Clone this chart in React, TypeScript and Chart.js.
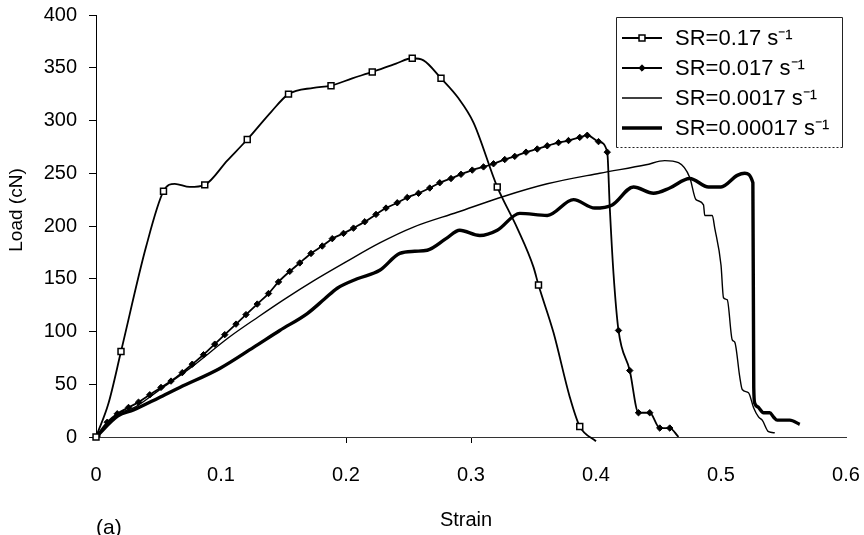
import React, { useEffect, useRef } from "react";
import { Chart, registerables } from "chart.js";

Chart.register(...registerables);

const FONT = '"Liberation Sans", Arial, Helvetica, sans-serif';

const seriesLabels = ["SR=0.17 s⁻¹", "SR=0.017 s⁻¹", "SR=0.0017 s⁻¹", "SR=0.00017 s⁻¹"];
const xTickValues = [0, 0.1, 0.2, 0.3, 0.4, 0.5, 0.6];
const yTickValues = [0, 50, 100, 150, 200, 250, 300, 350, 400];
const xAxisTitle = "Strain";
const yAxisTitle = "Load (cN)";
const panelLabel = "(a)";

// SR = 0.17 s-1 (square markers)
const sr1Strain = [0, 0.01, 0.02, 0.04, 0.054, 0.063, 0.075, 0.087, 0.105, 0.121, 0.14, 0.154, 0.174, 0.188, 0.205, 0.221, 0.24, 0.253, 0.262, 0.276, 0.29, 0.302, 0.321, 0.337, 0.35, 0.354, 0.366, 0.379, 0.387, 0.4];
const sr1Load = [0, 32, 81, 180, 233, 240, 237, 239, 262, 282, 308, 325, 331, 333, 340, 346, 354, 359, 357, 340, 321, 298, 237, 198, 161, 144, 99, 38, 10, -4];
const sr1Markers = [0, 2, 4, 7, 9, 11, 13, 15, 17, 19, 22, 25, 28];

// SR = 0.017 s-1 (diamond markers)
const sr2Strain = [0, 0.009, 0.017, 0.026, 0.034, 0.043, 0.052, 0.06, 0.069, 0.077, 0.086, 0.095, 0.103, 0.112, 0.12, 0.129, 0.138, 0.146, 0.155, 0.163, 0.172, 0.181, 0.189, 0.198, 0.206, 0.215, 0.224, 0.232, 0.241, 0.249, 0.258, 0.267, 0.275, 0.284, 0.292, 0.301, 0.31, 0.318, 0.327, 0.335, 0.344, 0.353, 0.361, 0.37, 0.378, 0.387, 0.393, 0.402, 0.409, 0.411, 0.414, 0.418, 0.427, 0.434, 0.443, 0.451, 0.459, 0.466];
const sr2Load = [0, 14, 22, 28, 33, 40, 47, 53, 61, 69, 78, 88, 97, 107, 116, 126, 136, 147, 157, 165, 174, 181, 188, 193, 198, 204, 211, 217, 222, 227, 231, 236, 241, 245, 249, 253, 256, 259, 263, 266, 270, 273, 276, 279, 281, 284, 286, 280, 270, 218, 155, 101, 63, 23, 23, 8.5, 8.5, 0];
const sr2Unmarked = [49, 50, 57];

// SR = 0.0017 s-1 (thin line)
const sr3Strain = [0, 0.0176, 0.03, 0.05, 0.075, 0.107, 0.13, 0.15, 0.174, 0.2, 0.227, 0.254, 0.289, 0.326, 0.361, 0.403, 0.44, 0.455, 0.466, 0.475, 0.48, 0.486, 0.487, 0.493, 0.495, 0.5, 0.502, 0.505, 0.509, 0.511, 0.515, 0.517, 0.522, 0.526, 0.53, 0.533, 0.538, 0.543];
const sr3Load = [0, 22, 27.5, 44, 65, 95, 114, 130, 148, 166, 184, 199, 213, 228, 240, 250, 258, 262, 260, 246, 225, 220, 210, 210, 198, 163, 132, 130, 92, 90, 57, 45, 42, 28, 19, 16, 5, 4];

// SR = 0.00017 s-1 (thick line)
const sr4Strain = [0, 0.0176, 0.03, 0.05, 0.067, 0.099, 0.126, 0.147, 0.169, 0.183, 0.193, 0.209, 0.227, 0.243, 0.255, 0.265, 0.28, 0.291, 0.307, 0.321, 0.339, 0.361, 0.382, 0.399, 0.413, 0.43, 0.446, 0.459, 0.475, 0.49, 0.5, 0.513, 0.519, 0.5255, 0.5262, 0.527, 0.53, 0.534, 0.539, 0.542, 0.545, 0.555, 0.563];
const sr4Load = [0, 20, 25.6, 37, 47, 65, 85, 101, 117, 131, 141, 150, 158, 174, 176, 177, 188, 196, 191, 196, 212, 210, 225, 217, 220, 237, 231, 236, 245, 237, 237, 248, 250, 241, 47, 32, 28, 23, 23, 19, 16, 16, 12];

function toPoints(xs: number[], ys: number[]) {
  return xs.map((x, i) => ({ x, y: ys[i] }));
}

function drawMarker(ctx: CanvasRenderingContext2D, style: string, r: number, x: number, y: number, fill: string, bw: number) {
  ctx.save();
  ctx.beginPath();
  if (style === "rect") {
    const s = Math.SQRT1_2 * r;
    ctx.rect(x - s, y - s, 2 * s, 2 * s);
  } else {
    ctx.moveTo(x, y - r);
    ctx.lineTo(x + r, y);
    ctx.lineTo(x, y + r);
    ctx.lineTo(x - r, y);
    ctx.closePath();
  }
  ctx.fillStyle = fill;
  ctx.fill();
  ctx.lineWidth = bw;
  ctx.strokeStyle = "#000";
  ctx.stroke();
  ctx.restore();
}

const decorPlugin = {
  id: "decor",
  afterDraw(chart: any) {
    const ctx: CanvasRenderingContext2D = chart.ctx;
    const area = chart.chartArea;
    ctx.save();
    // legend box
    const bx = area.right - 230;
    const by = area.top + 2;
    const bw = 226;
    const bh = 130;
    ctx.fillStyle = "#fff";
    ctx.fillRect(bx, by, bw, bh);
    ctx.strokeStyle = "#222";
    ctx.lineWidth = 1;
    ctx.beginPath();
    ctx.moveTo(bx + 0.5, by + bh + 0.5);
    ctx.lineTo(bx + 0.5, by + 0.5);
    ctx.lineTo(bx + bw + 0.5, by + 0.5);
    ctx.lineTo(bx + bw + 0.5, by + bh + 0.5);
    ctx.stroke();
    ctx.setLineDash([2, 2]);
    ctx.beginPath();
    ctx.moveTo(bx + 0.5, by + bh + 0.5);
    ctx.lineTo(bx + bw + 0.5, by + bh + 0.5);
    ctx.stroke();
    ctx.setLineDash([]);
    chart.data.datasets.forEach((ds: any, i: number) => {
      const y = by + 21 + i * 30;
      const x1 = bx + 6;
      const x2 = bx + 46;
      ctx.strokeStyle = "#000";
      ctx.lineWidth = ds.borderWidth;
      ctx.beginPath();
      ctx.moveTo(x1, y);
      ctx.lineTo(x2, y);
      ctx.stroke();
      if (ds.legendMarker) {
        drawMarker(ctx, ds.pointStyle, ds.legendMarker, (x1 + x2) / 2, y, ds.pointBackgroundColor, ds.pointBorderWidth);
      }
      ctx.fillStyle = "#000";
      ctx.font = `22px ${FONT}`;
      ctx.textAlign = "left";
      ctx.textBaseline = "middle";
      ctx.fillText(ds.label, bx + 59, y + 1);
    });
    // axis titles
    ctx.fillStyle = "#000";
    ctx.font = `20px ${FONT}`;
    ctx.textAlign = "center";
    ctx.textBaseline = "middle";
    ctx.fillText(xAxisTitle, 466, 520);
    ctx.font = `19px ${FONT}`;
    ctx.save();
    ctx.translate(17, 210);
    ctx.rotate(-Math.PI / 2);
    ctx.fillText(yAxisTitle, 0, 0);
    ctx.restore();
    ctx.font = `21px ${FONT}`;
    ctx.textAlign = "left";
    ctx.textBaseline = "top";
    ctx.fillText(panelLabel, 96, 518);
    ctx.restore();
  },
};

export default function App() {
  const ref = useRef<HTMLCanvasElement | null>(null);
  useEffect(() => {
    if (!ref.current) return;
    const m1 = new Set(sr1Markers);
    const u2 = new Set(sr2Unmarked);
    const chart = new Chart(ref.current, {
      type: "line",
      data: {
        datasets: [
          {
            label: seriesLabels[0],
            data: toPoints(sr1Strain, sr1Load),
            borderColor: "#000",
            borderWidth: 1.8,
            cubicInterpolationMode: "monotone",
            pointStyle: "rect",
            pointRadius: (c: any) => (m1.has(c.dataIndex) ? 4.2 : 0),
            pointBackgroundColor: "#fff",
            pointBorderColor: "#000",
            pointBorderWidth: 1.5,
            clip: false,
            legendMarker: 4.2,
          } as any,
          {
            label: seriesLabels[1],
            data: toPoints(sr2Strain, sr2Load),
            borderColor: "#000",
            borderWidth: 1.8,
            cubicInterpolationMode: "monotone",
            pointStyle: "rectRot",
            pointRadius: (c: any) => (u2.has(c.dataIndex) ? 0 : 3.2),
            pointBackgroundColor: "#000",
            pointBorderColor: "#000",
            pointBorderWidth: 1,
            legendMarker: 3.2,
          } as any,
          {
            label: seriesLabels[2],
            data: toPoints(sr3Strain, sr3Load),
            borderColor: "#000",
            borderWidth: 1.4,
            cubicInterpolationMode: "monotone",
            pointRadius: 0,
          } as any,
          {
            label: seriesLabels[3],
            data: toPoints(sr4Strain, sr4Load),
            borderColor: "#000",
            borderWidth: 3.4,
            cubicInterpolationMode: "monotone",
            pointStyle: "rect",
            pointRadius: (c: any) => (c.dataIndex === 0 ? 4 : 0),
            pointBackgroundColor: "#000",
            pointBorderColor: "#000",
          } as any,
        ],
      },
      options: {
        responsive: false,
        animation: false,
        events: [],
        layout: { padding: { top: 15, right: 18, left: 0, bottom: 0 } },
        plugins: { legend: { display: false }, tooltip: { enabled: false } },
        scales: {
          x: {
            type: "linear",
            min: 0,
            max: 0.6,
            afterBuildTicks: (s: any) => {
              s.ticks = xTickValues.map((v) => ({ value: v }));
            },
            afterFit: (s: any) => {
              s.height = 98;
              s.paddingLeft = 0;
              s.paddingRight = 0;
              s.paddingTop = 0;
              s.paddingBottom = 0;
            },
            grid: {
              drawOnChartArea: false,
              drawTicks: true,
              tickLength: 6,
              color: (c: any) => (c.tick && (c.tick.value === 0.2 || c.tick.value === 0.3) ? "#000" : "rgba(0,0,0,0)"),
            },
            border: { display: true, color: "#333", width: 1, dash: [2, 2] },
            ticks: {
              color: "#000",
              font: { family: FONT, size: 20 },
              padding: 20,
              maxRotation: 0,
              callback: (v: any) => String(Number(Number(v).toFixed(1))),
            },
          },
          y: {
            type: "linear",
            min: 0,
            max: 400,
            afterBuildTicks: (s: any) => {
              s.ticks = yTickValues.map((v) => ({ value: v }));
            },
            afterFit: (s: any) => {
              s.width = 96;
              s.paddingLeft = 0;
              s.paddingRight = 0;
              s.paddingTop = 0;
              s.paddingBottom = 0;
            },
            grid: { drawOnChartArea: false, drawTicks: true, tickLength: 7, color: "#000" },
            border: { display: true, color: "#000", width: 1 },
            ticks: {
              color: "#000",
              font: { family: FONT, size: 20 },
              padding: 12,
            },
          },
        },
      },
      plugins: [decorPlugin],
    } as any);
    return () => chart.destroy();
  }, []);
  return (
    <div style={{ position: "fixed", left: 0, top: 0, width: 864, height: 535, background: "#fff" }}>
      <canvas ref={ref} width={864} height={535} style={{ display: "block" }} />
    </div>
  );
}
